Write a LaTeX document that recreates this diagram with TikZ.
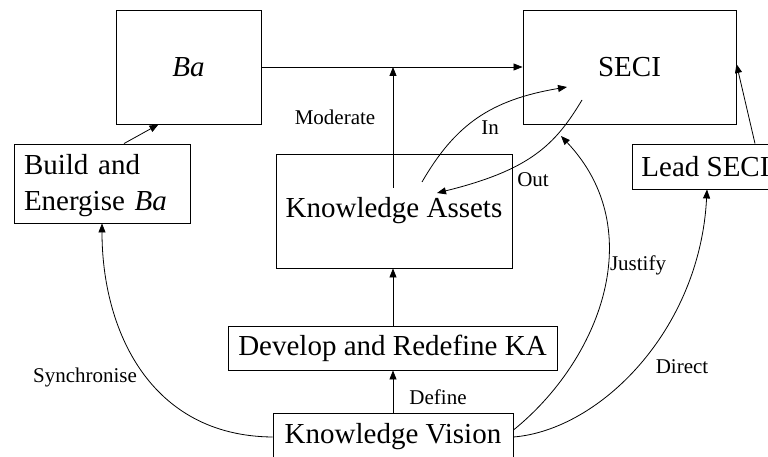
\documentclass[tikz,border=0pt]{standalone}
\usepackage{fontspec}
\setmainfont{Liberation Serif}
\usetikzlibrary{arrows.meta,calc}
\begin{document}
\begin{tikzpicture}[x=1pt,y=-1pt,
  box/.style={draw,line width=0.9pt,inner sep=0pt,font=\fontsize{29}{35}\selectfont},
  lbl/.style={font=\fontsize{21}{25}\selectfont,inner sep=0pt},
  arr/.style={line width=0.8pt,-{Triangle[length=9pt,width=7pt]}}]
\useasboundingbox (0,0) rectangle (768,457);
\begin{scope}
\clip (0,0) rectangle (768,457);
\node[box,minimum width=145pt,minimum height=114pt] (Ba) at (188.5,67) {\itshape Ba};
\node[box,minimum width=213pt,minimum height=114pt] (SECI) at (629.5,67) {SECI};
\node[box,minimum width=176pt,minimum height=79pt] (Build) at (102,183.5) {};
\node[font=\fontsize{29}{36}\selectfont,align=left,text width=160pt,inner sep=0pt] (BuildT) at (104,186) {Build and\\Energise \textit{Ba}};
\node[box,minimum width=236pt,minimum height=114pt] (KA) at (394,211) {Knowledge Assets};
\node[box,minimum width=146pt,minimum height=45pt,anchor=west,inner xsep=8pt] (Lead) at (632,166.5) {Lead SECI};
\node[box,minimum width=329pt,minimum height=44pt] (Dev) at (392.5,348) {Develop and Redefine KA};
\node[box,minimum width=240pt,minimum height=48pt] (Vis) at (393,437) {Knowledge Vision};

\coordinate (m1) at (393,188);
\coordinate (m2) at (393,67);
\coordinate (inA) at (422,182);
\coordinate (inB) at (567,87);
\coordinate (outA) at (582,100);
\coordinate (outB) at (437,193);
\coordinate (jB) at (561,136);

\draw[arr] (Ba.east) -- (SECI.west);
\draw[arr] (m1) -- (m2);
\draw[arr] ($(Build.north)+(22,0)$) -- ($(Ba.south)+(-30,0)$);
\draw[arr] (inA) .. controls (455,125) and (490,100) .. (inB);
\draw[arr] (outA) .. controls (555,145) and (530,170) .. (outB);
\draw[arr] (Dev.north -| m1) -- (KA.south -| m1);
\draw[arr] (Vis.north -| m1) -- (Dev.south -| m1);
\draw[arr] (Vis.west) .. controls (150,436) and (102,330) .. (Build.south);
\draw[arr] ($(Vis.east)+(0,-7)$) .. controls (600,360) and (650,230) .. (jB);
\draw[arr] (Vis.east) .. controls (600,430) and (700,330) .. ($(Lead.south west)+(75,0)$);
\draw[arr] ($(Lead.north west)+(123,0)$) -- ($(SECI.east)+(0,-3)$);

\node[lbl] (lmod) at (335,117) {Moderate};
\node[lbl] (lin) at (490,128) {In};
\node[lbl] (lout) at (533,180) {Out};
\node[lbl] (ldef) at (438,397) {Define};
\node[lbl] (lsyn) at (85,377) {Synchronise};
\node[lbl] (ljus) at (638,265) {Justify};
\node[lbl] (ldir) at (682,367) {Direct};
\end{scope}
\end{tikzpicture}
\end{document}
